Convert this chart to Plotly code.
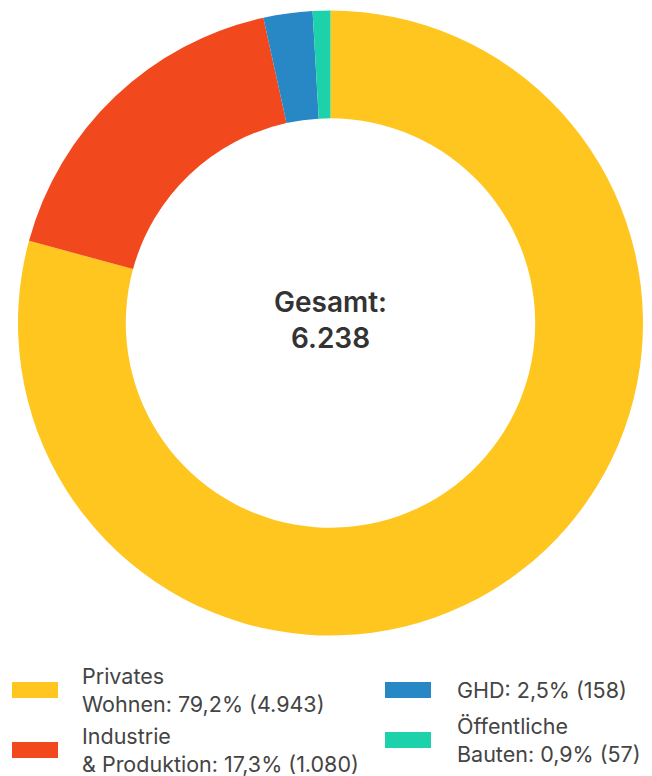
import plotly.graph_objects as go

categories = ["Privates Wohnen", "Industrie & Produktion", "GHD", "Öffentliche Bauten"]
label_lines = [["Privates", "Wohnen"], ["Industrie", "& Produktion"], ["GHD"], ["Öffentliche", "Bauten"]]
values = [4943, 1080, 158, 57]
shares = ["79,2%", "17,3%", "2,5%", "0,9%"]
colors = ["#FFC61F", "#F2481D", "#2888C5", "#1DD2AB"]

# page body has an 8px margin; figure sized to fill the rest of the window
OFF = 8
W, H = 652 - OFF, 776 - OFF
total = sum(values)

def px_x(x):
    return (x - OFF) / W

def px_y(y):
    return 1 - (y - OFF) / H

def fmt_int(v):
    return f"{v:,}".replace(",", ".")

fig = go.Figure(go.Pie(
    labels=categories,
    values=values,
    hole=0.655,
    sort=False,
    direction="clockwise",
    rotation=0,
    marker=dict(colors=colors, line=dict(width=0)),
    textinfo="none",
    hoverinfo="label+value+percent",
    domain=dict(x=[px_x(18), px_x(643)], y=[px_y(636), px_y(10)]),
    showlegend=False,
))

font_family = "Inter, 'Noto Sans', sans-serif"

annotations = [dict(
    x=px_x(330.5), y=px_y(320), xref="paper", yref="paper",
    text=f"Gesamt:<br>{fmt_int(total)}", showarrow=False,
    font=dict(family=font_family, size=28, color="#333333", weight=600),
    align="center",
)]
shapes = []

# legend layout: (swatch x0, swatch center y, text x)
legend_pos = [(12, 690, 80), (12, 750, 80), (385, 690, 455), (385, 740, 455)]
for i, (sx, cy, tx) in enumerate(legend_pos):
    shapes.append(dict(type="rect", xref="paper", yref="paper",
                       x0=px_x(sx), x1=px_x(sx + 46),
                       y0=px_y(cy + 8), y1=px_y(cy - 8),
                       fillcolor=colors[i], line=dict(width=0)))
    lines = list(label_lines[i])
    lines[-1] = f"{lines[-1]}: {shares[i]} ({fmt_int(values[i])})"
    annotations.append(dict(
        x=px_x(tx), y=px_y(cy), xref="paper", yref="paper",
        xanchor="left", yanchor="middle", showarrow=False,
        text="<br>".join(lines), align="left",
        font=dict(family=font_family, size=21.5, color="#444444"),
    ))

fig.update_layout(
    width=W, height=H,
    margin=dict(l=0, r=0, t=0, b=0),
    paper_bgcolor="white", plot_bgcolor="white",
    annotations=annotations, shapes=shapes,
)

fig.write_html("out.html")
